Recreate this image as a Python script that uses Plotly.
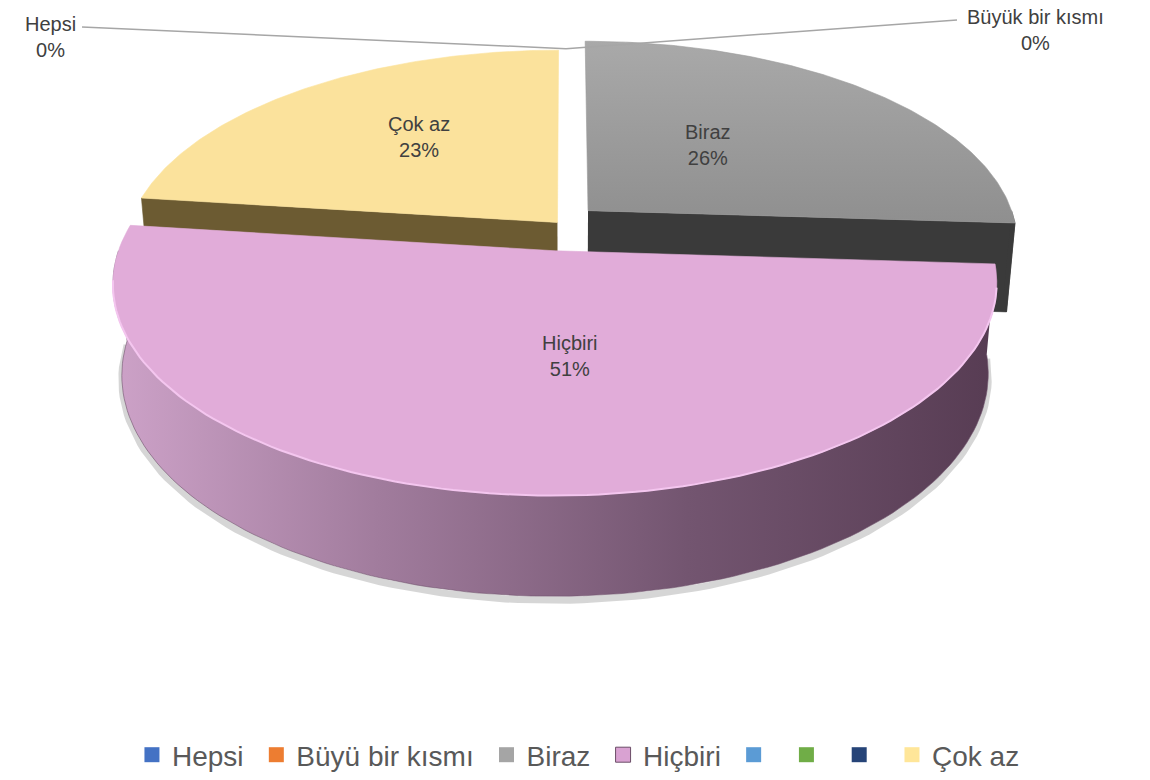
import numpy as np
import plotly.graph_objects as go

# ---------------- data ----------------
categories = ["Hepsi", "Büyük bir kısmı", "Biraz", "Hiçbiri", "Çok az"]
values = [0, 0, 26, 51, 23]
legend_names = ["Hepsi", "Büyü bir kısmı", "Biraz", "Hiçbiri", "", "", "", "Çok az"]

# ---------------- style ----------------
legend_colors = ["#4472C4", "#ED7D31", "#A5A5A5", "#D9A2D2", "#5B9BD5", "#70AD47", "#264478", "#FFE699"]
top_colors = {"Biraz": "#a2a2a2", "Hiçbiri": "#e1acd9", "Çok az": "#fbe29c"}
side_colors = {"Biraz": "#3a3a3a", "Hiçbiri": "#7d5f79", "Çok az": "#6c5b32"}
# explosion offsets (pie-plane units, u to the right, v away from viewer)
EXPLODE = {"Hepsi": (0.0, 0.05), "Büyük bir kısmı": (0.0, 0.05), "Biraz": (0.052, 0.10),
           "Hiçbiri": (-0.025, -0.10), "Çok az": (-0.02, 0.04)}
LABEL_NUDGE = {"Biraz": (-3, -12), "Hiçbiri": (34, 13), "Çok az": (-26, -26)}
OUTER_LABEL = {"Hepsi": ((50, 37), (82, 27)), "Büyük bir kısmı": ((1035, 30), (957, 20))}

# perspective camera
CX, CY, W = 566.0, 231.0, 430.0
K = 0.152
SIN, COS = 0.468, 0.884
DD = COS / K
H = 0.24


def P(u, v, z=0.0):
    u = np.asarray(u, float)
    v = np.asarray(v, float)
    den = 1 + K * v - z * SIN / DD
    return CX + W * u / den, CY - W * (v * SIN + z * COS) / den


def rim(cat, a0, a1, z=0.0, n=120):
    du, dv = EXPLODE[cat]
    th = np.radians(np.linspace(a0, a1, n))
    return P(du + np.sin(th), dv + np.cos(th), z)


def vertex(cat, z=0.0):
    du, dv = EXPLODE[cat]
    x, y = P([du], [dv], z)
    return x, y


total = sum(values)
slices = []
acc = 0.0
for cat, val in zip(categories, values):
    span = val / total * 360.0
    slices.append((cat, val, acc, acc + span))
    acc += span

fig = go.Figure()


def poly(x, y, color=None, grad=None, lw=0.6, lc=None):
    kw = dict(x=np.round(x, 2), y=np.round(y, 2), mode="lines", fill="toself",
              hoverinfo="skip", showlegend=False,
              line=dict(width=lw, color=lc or color or "rgba(0,0,0,0)"))
    if grad is not None:
        kw["fillgradient"] = grad
    else:
        kw["fillcolor"] = color
    fig.add_trace(go.Scatter(**kw))


def draw_slice(cat, a0, a1):
    vx, vy = vertex(cat)
    bx, by = vertex(cat, -H)
    # radial faces facing viewer
    for edge, normal_v in ((a0, np.sin(np.radians(a0))), (a1, -np.sin(np.radians(a1)))):
        if normal_v < -0.05:
            tx, ty = rim(cat, edge, edge, 0, 1)
            dx, dy = rim(cat, edge, edge, -H, 1)
            poly(np.concatenate([vx, tx, dx, bx]), np.concatenate([vy, ty, dy, by]),
                 color=side_colors[cat])
    # outer wall (front half)
    lo, hi = max(a0, 90.0), min(a1, 270.0)
    if hi > lo:
        tx, ty = rim(cat, lo, hi, 0)
        dx, dy = rim(cat, lo, hi, -H)
        if cat == "Hiçbiri":
            sx, sy = dx, dy + 4
            fig.add_trace(go.Scatter(x=sx, y=sy, mode="lines", hoverinfo="skip", showlegend=False,
                                     line=dict(color="rgba(0,0,0,0.16)", width=7)))
            grad = dict(type="horizontal",
                        colorscale=[[0, "#cda2c8"], [0.3, "#a17c9d"], [0.65, "#735570"], [1, "#573c53"]])
            poly(np.concatenate([tx, dx[::-1]]), np.concatenate([ty, dy[::-1]]), grad=grad,
                 lc="#6f536b")
        else:
            poly(np.concatenate([tx, dx[::-1]]), np.concatenate([ty, dy[::-1]]),
                 color=side_colors[cat])
    # top face
    tx, ty = rim(cat, a0, a1, 0)
    px, py = np.concatenate([vx, tx, vx]), np.concatenate([vy, ty, vy])
    if cat == "Biraz":
        poly(px, py, grad=dict(type="vertical", colorscale=[[0, "#8f8f8f"], [1, "#a9a9a9"]]),
             lc="#9a9a9a")
    else:
        poly(px, py, color=top_colors[cat])
    if cat == "Hiçbiri":
        hx, hy = rim(cat, max(a0, 100), min(a1, 262), 0)
        fig.add_trace(go.Scatter(x=hx, y=hy, mode="lines", hoverinfo="skip", showlegend=False,
                                 line=dict(color="#f4c6ef", width=2)))


order = ["Çok az", "Biraz", "Hiçbiri"]
lookup = {s[0]: s for s in slices}
for cat in order:
    _, val, a0, a1 = lookup[cat]
    if val > 0:
        draw_slice(cat, a0, a1)

annotations = []
FONT = dict(family="Liberation Sans, Arial, sans-serif", size=20, color="#404040")
for cat, val, a0, a1 in slices:
    pct = f"{round(val / total * 100)}%"
    if val > 0:
        du, dv = EXPLODE[cat]
        mid = np.radians((a0 + a1) / 2)
        lx, ly = P([du + 0.42 * np.sin(mid)], [dv + 0.42 * np.cos(mid)])
        nx, ny = LABEL_NUDGE[cat]
        annotations.append(dict(x=float(lx[0]) + nx, y=float(ly[0]) + ny, xref="x", yref="y",
                                xanchor="center", yanchor="middle",
                                text=f"{cat}<br>{pct}", showarrow=False, font=FONT))
    else:
        (tx, ty), (sx, sy) = OUTER_LABEL[cat]
        ex, ey = rim(cat, a0, a0, 0, 1)
        fig.add_trace(go.Scatter(x=[sx, float(ex[0])], y=[sy, float(ey[0])], mode="lines",
                                 hoverinfo="skip", showlegend=False,
                                 line=dict(color="#a6a6a6", width=1.5)))
        annotations.append(dict(x=tx, y=ty, xref="x", yref="y", xanchor="center", yanchor="middle",
                                text=f"{cat}<br>{pct}", showarrow=False, font=FONT))

NBSP = "\u00a0"
for i, (name, col) in enumerate(zip(legend_names, legend_colors)):
    line = dict(width=1, color="#6b4d67") if name == "Hiçbiri" else dict(width=0)
    shown = name + (NBSP if i < len(legend_names) - 1 else "")
    fig.add_trace(go.Scatter(x=[None], y=[None], mode="markers", name=shown,
                             marker=dict(symbol="square", size=15, color=col, line=line),
                             showlegend=True))

fig.update_layout(
    width=1150, height=780,
    margin=dict(l=0, r=0, t=0, b=0),
    paper_bgcolor="white", plot_bgcolor="white",
    xaxis=dict(range=[0, 1150], visible=False, fixedrange=True),
    yaxis=dict(range=[780, 0], visible=False, fixedrange=True),
    annotations=annotations,
    showlegend=True,
    legend=dict(orientation="h", x=0.503, xanchor="center", y=1 - 757 / 780, yanchor="middle",
                font=dict(family="Liberation Sans, Arial, sans-serif", size=28, color="#595959"),
                bgcolor="rgba(0,0,0,0)", itemclick=False, itemdoubleclick=False),
)

fig.write_html("out.html", config={"displayModeBar": False},
               post_script="document.body.style.margin='0';")
